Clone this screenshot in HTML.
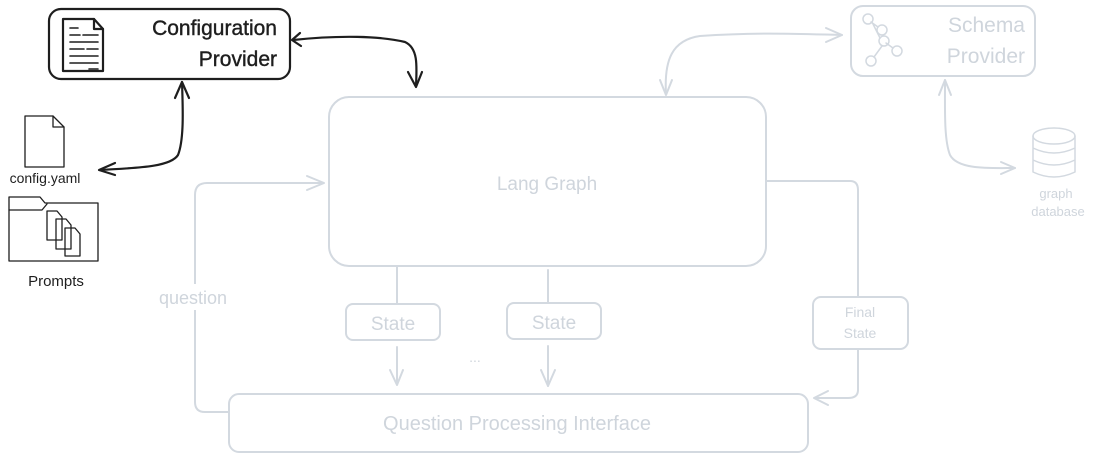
<!DOCTYPE html>
<html><head><meta charset="utf-8"><style>
html,body{margin:0;padding:0;background:#fff;width:1100px;height:458px;overflow:hidden}
text{font-family:"Liberation Sans",sans-serif}
</style></head><body>
<svg width="1100" height="458" viewBox="0 0 1100 458" xmlns="http://www.w3.org/2000/svg">
<g fill="none" stroke="#1e1e1e" stroke-width="2.2" stroke-linecap="round" stroke-linejoin="round">
<rect x="49" y="9" width="241" height="70" rx="12"/>
<path d="M63 19 H94 L103 29 V71 H63 Z"/>
<path d="M94 19 V29 H103"/>
<path d="M70 28 H78 M70 35 H80 M83 35 H98 M70 42 H98 M70 49 H84 M87 49 H98 M70 56 H98 M70 63 H98 M89 69 H98" stroke-width="1.6"/>
<path d="M293 40 C340 35 380 36 405 42 C418 48 417 65 416 86"/>
<path d="M408 72 L416 87 L422 72"/>
<path d="M300 33 L292 40 L301 46"/>
<path d="M182 82 C183 110 184 140 178 155 C170 168 130 168 100 170"/>
<path d="M175 98 L182 82 L189 98"/>
<path d="M115 163 L99 170 L115 175"/>
<g stroke-width="1.3">
<path d="M25 116 H53 L64 127 V167 H25 Z"/><path d="M53 116 V127 H64"/>
<path d="M9 197 H40 L45 203 H98 V261 H9 Z"/><path d="M9 210 H42 L47 204"/>
<path d="M47 211 H57 L62 217 V240 H47 Z"/>
<path d="M56 219 H66 L71 225 V249 H56 Z"/>
<path d="M65 228 H75 L80 234 V256 H65 Z"/>
</g>
</g>
<g font-size="21" fill="#1e1e1e" stroke="#1e1e1e" stroke-width="0.4">
<text x="277" y="35" text-anchor="end">Configuration</text>
<text x="277" y="66" text-anchor="end">Provider</text>
</g>
<text x="45" y="183" font-size="14" fill="#1e1e1e" text-anchor="middle">config.yaml</text>
<text x="56" y="286" font-size="15" fill="#1e1e1e" text-anchor="middle">Prompts</text>

<g fill="none" stroke="#d3d9e0" stroke-width="2" stroke-linecap="round" stroke-linejoin="round">
<rect x="329" y="97" width="437" height="169" rx="20"/>
<rect x="851" y="6" width="184" height="70" rx="12"/>
<rect x="229" y="394" width="579" height="58" rx="10"/>
<rect x="346" y="304" width="94" height="36" rx="7"/>
<rect x="507" y="303" width="94" height="36" rx="7"/>
<rect x="813" y="297" width="95" height="52" rx="8"/>
<path d="M666 94 C664 60 672 40 700 36 C760 32 800 34 842 35"/>
<path d="M826 28 L842 35 L826 42"/>
<path d="M660 80 L666 95 L672 80"/>
<path d="M945 80 C945 110 944 140 950 155 C958 170 990 168 1015 168"/>
<path d="M939 95 L945 80 L951 95"/>
<path d="M1001 162 L1015 168 L1001 174"/>
<path d="M228 412 H205 Q195 412 195 402 V195 Q195 183 207 183 H323"/>
<path d="M307 176 L324 183 L307 190"/>
<path d="M397 266 V304 M397 347 V384 M548 270 V303 M548 346 V386"/>
<path d="M390 370 L397 385 L403 370 M541 370 L548 386 L555 370"/>
<path d="M767 181 H850 Q858 181 858 190 V296 M858 349 V390 Q858 398 848 398 H815"/>
<path d="M828 391 L814 398 L828 405"/>
<g stroke-width="1.5">
<circle cx="868" cy="19" r="5"/><circle cx="882" cy="30" r="5"/><circle cx="884" cy="41" r="5"/><circle cx="897" cy="51" r="5"/><circle cx="871" cy="61" r="5"/>
<path d="M872 22 L880 38 M886 43 L893 48 M882 46 L874 57 M871 22 L878 27"/>
<ellipse cx="1054" cy="136" rx="21" ry="8"/>
<path d="M1033 136 V172 Q1054 182 1075 172 V136 M1033 148 Q1054 158 1075 148 M1033 160 Q1054 170 1075 160"/>
</g>
</g>
<rect x="143" y="284" width="102" height="26" fill="#fff"/>
<g fill="#cfd5dc">
<text x="547" y="190" font-size="19" text-anchor="middle">Lang Graph</text>
<text x="1025" y="32" font-size="21" text-anchor="end">Schema</text>
<text x="1025" y="63" font-size="21" text-anchor="end">Provider</text>
<text x="1056" y="198" font-size="13" text-anchor="middle">graph</text>
<text x="1058" y="216" font-size="13" text-anchor="middle">database</text>
<text x="393" y="330" font-size="19" text-anchor="middle">State</text>
<text x="554" y="329" font-size="19" text-anchor="middle">State</text>
<text x="860" y="317" font-size="14" text-anchor="middle">Final</text>
<text x="860" y="338" font-size="14" text-anchor="middle">State</text>
<text x="475" y="362" font-size="14" text-anchor="middle">...</text>
<text x="517" y="430" font-size="20" text-anchor="middle">Question Processing Interface</text>
<text x="193" y="304" font-size="18" text-anchor="middle">question</text>
</g>
</svg>
</body></html>
